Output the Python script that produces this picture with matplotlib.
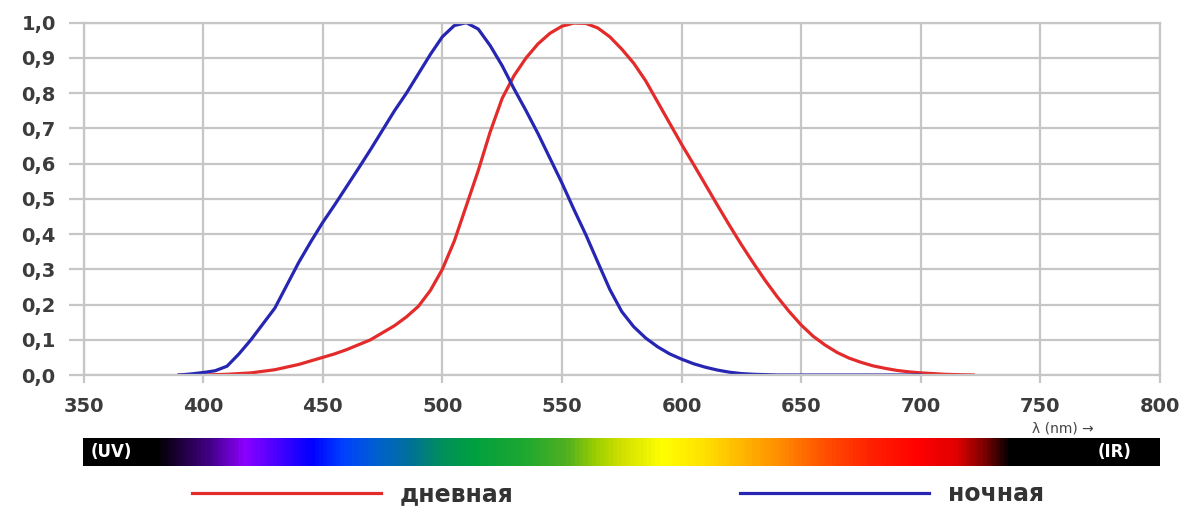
import numpy as np
import matplotlib
matplotlib.use("Agg")
import matplotlib.pyplot as plt
from matplotlib.colors import LinearSegmentedColormap

# photopic (day) curve
wl_day = [390, 400, 410, 420, 430, 440, 445, 450, 455, 460, 465, 470, 475, 480,
          485, 490, 495, 500, 505, 510, 515, 520, 525, 530, 535, 540, 545, 550,
          555, 560, 565, 570, 575, 580, 585, 590, 595, 600, 605, 610, 615, 620,
          625, 630, 635, 640, 645, 650, 655, 660, 665, 670, 675, 680, 685, 690,
          695, 700, 705, 710, 715, 722]
v_day = [0.0, 0.0, 0.002, 0.006, 0.015, 0.03, 0.04, 0.05, 0.06, 0.072, 0.086, 0.10,
         0.12, 0.14, 0.165, 0.195, 0.24, 0.30, 0.38, 0.48, 0.58, 0.69, 0.785, 0.85,
         0.90, 0.94, 0.97, 0.99, 0.999, 0.998, 0.985, 0.96, 0.925, 0.885, 0.835,
         0.775, 0.715, 0.655, 0.598, 0.54, 0.482, 0.425, 0.37, 0.318, 0.268, 0.222,
         0.18, 0.142, 0.11, 0.085, 0.064, 0.048, 0.036, 0.026, 0.019, 0.013, 0.009,
         0.006, 0.004, 0.002, 0.001, 0.0]

# scotopic (night) curve
wl_night = [390, 395, 400, 405, 410, 415, 420, 425, 430, 435, 440, 445, 450, 455,
            460, 465, 470, 475, 480, 485, 490, 495, 500, 505, 510, 515, 520, 525,
            530, 535, 540, 545, 550, 555, 560, 565, 570, 575, 580, 585, 590, 595,
            600, 605, 610, 615, 620, 625, 630, 635, 640, 660, 680, 700]
v_night = [0.0, 0.003, 0.007, 0.012, 0.025, 0.06, 0.10, 0.145, 0.19, 0.255, 0.32,
           0.378, 0.433, 0.483, 0.535, 0.587, 0.64, 0.695, 0.75, 0.80, 0.855, 0.91,
           0.96, 0.992, 1.0, 0.982, 0.935, 0.878, 0.812, 0.75, 0.685, 0.615, 0.545,
           0.47, 0.398, 0.32, 0.243, 0.18, 0.137, 0.105, 0.08, 0.06, 0.045, 0.032,
           0.022, 0.014, 0.008, 0.004, 0.002, 0.001, 0.0, 0.0, 0.0, 0.0]

x_ticks = [350, 400, 450, 500, 550, 600, 650, 700, 750, 800]
y_ticks = [0.0, 0.1, 0.2, 0.3, 0.4, 0.5, 0.6, 0.7, 0.8, 0.9, 1.0]
y_labels = ["0,0", "0,1", "0,2", "0,3", "0,4", "0,5", "0,6", "0,7", "0,8", "0,9", "1,0"]

# spectrum bar colour stops (nm, colour)
spec_nm = [350, 380, 403, 417, 432, 445, 458, 472, 486, 500, 513, 535, 552, 565,
           575, 592, 610, 622, 642, 660, 680, 700, 716, 727, 738, 800]
spec_col = ["#000000", "#000000", "#46008c", "#8c00ff", "#4000ff", "#0000ff",
            "#0040ff", "#0060d0", "#00709a", "#00905a", "#00a040", "#20a830",
            "#50b020", "#a0d000", "#d0e000", "#ffff00", "#ffe000", "#ffc000",
            "#ff8c00", "#ff5000", "#ff2000", "#ff0000", "#e00000", "#800000",
            "#000000", "#000000"]

W, H = 1192, 508
fig = plt.figure(figsize=(W / 100, H / 100), dpi=100)
ax = fig.add_axes([83.5 / W, 1 - 375 / H, (1160 - 83.5) / W, (375 - 22.7) / H])

grid_c = "#c6c6c6"
line_day, = ax.plot(wl_day, v_day, color="#e32b2b", lw=2.3, label="дневная")
line_night, = ax.plot(wl_night, v_night, color="#2626b2", lw=2.3, label="ночная")

ax.set_xlim(350, 800)
ax.set_ylim(0, 1)
ax.set_xticks(x_ticks)
ax.set_yticks(y_ticks)
ax.set_yticklabels(y_labels)
ax.grid(True, color=grid_c, lw=1.6)
ax.set_axisbelow(True)
for s in ax.spines.values():
    s.set_color(grid_c)
    s.set_linewidth(1.6)
ax.tick_params(axis="x", length=6, width=1.6, color=grid_c, pad=10,
               labelsize=14, labelcolor="#3c3c3c")
ax.tick_params(axis="y", length=11, width=1.6, color=grid_c, pad=9,
               labelsize=14, labelcolor="#3c3c3c")
for lab in ax.get_xticklabels() + ax.get_yticklabels():
    lab.set_fontweight("bold")

# spectrum strip
bax = fig.add_axes([83 / W, 1 - 466 / H, (1160 - 83) / W, 28 / H])
span = spec_nm[-1] - spec_nm[0]
cmap = LinearSegmentedColormap.from_list(
    "spec", [((n - spec_nm[0]) / span, c) for n, c in zip(spec_nm, spec_col)])
bax.imshow(np.linspace(0, 1, 900)[None, :], extent=[350, 800, 0, 1],
           aspect="auto", cmap=cmap)
bax.set_xlim(350, 800)
bax.axis("off")
bax.text(353, 0.5, "(UV)", color="white", fontsize=12, fontweight="bold", va="center")
bax.text(788, 0.5, "(IR)", color="white", fontsize=12, fontweight="bold",
         va="center", ha="right")

fig.text(1063 / W, 1 - 428 / H, "λ (nm) →", fontsize=10, color="#444444",
         ha="center", va="center")

for handle, x0 in [(line_day, 192), (line_night, 740)]:
    fig.legend(handles=[handle], loc="center left", bbox_to_anchor=(x0 / W, 1 - 494 / H),
               frameon=False, borderpad=0, borderaxespad=0, handlelength=8.0,
               handletextpad=0.8, prop={"size": 17, "weight": "bold"},
               labelcolor="#333333")

fig.savefig("out.png", dpi=100)
